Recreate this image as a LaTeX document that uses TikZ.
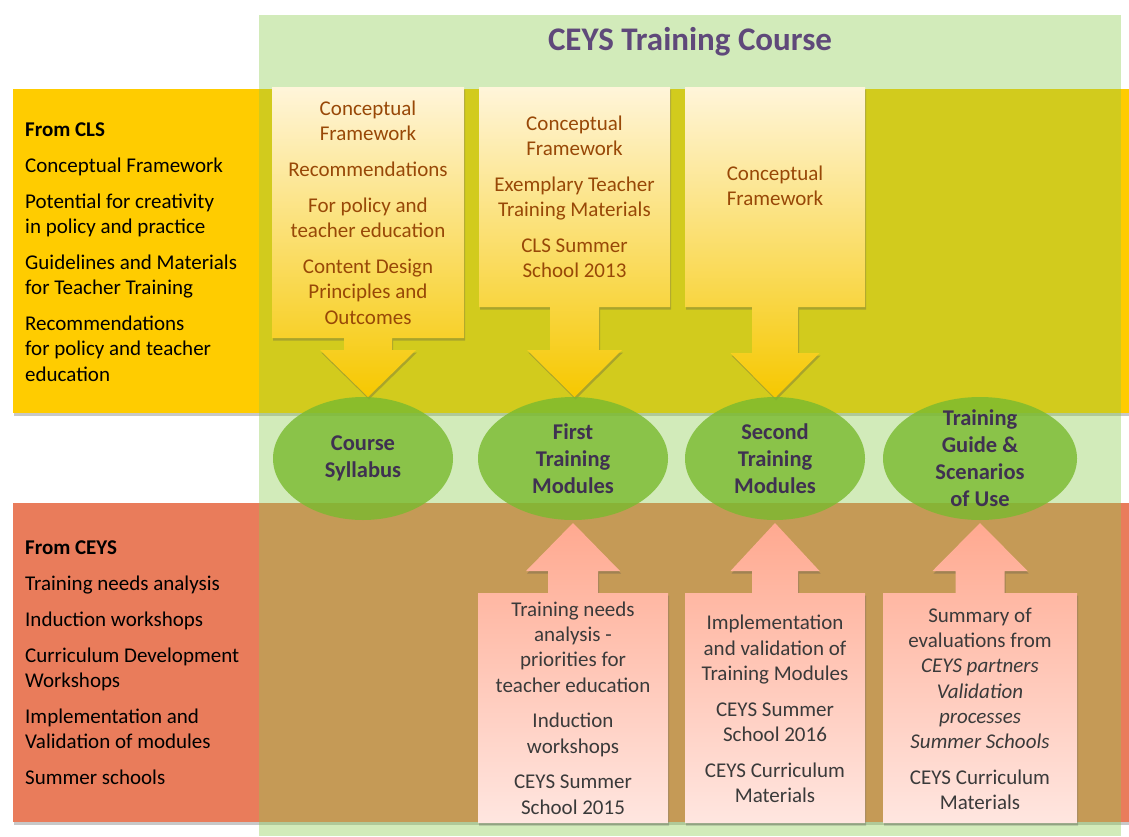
\documentclass[tikz,border=0pt]{standalone}
\usepackage{fontspec}
\setmainfont{Carlito}
\usetikzlibrary{shapes.geometric,shadows}
\definecolor{bandyellow}{HTML}{FFCC00}
\definecolor{bandred}{HTML}{E97C5B}
\definecolor{greenov}{RGB}{140,203,78}
\definecolor{ellgreen}{RGB}{122,186,47}
\definecolor{titlepurple}{HTML}{5F497A}
\definecolor{ellpurple}{HTML}{3F3151}
\definecolor{browntext}{HTML}{984807}
\definecolor{graytext}{HTML}{3A3A3A}
\definecolor{ytop}{HTML}{FFF5DA}
\definecolor{ybot}{HTML}{F6C800}
\definecolor{rtop}{HTML}{FFA990}
\definecolor{rbot}{HTML}{FFE6E0}
\begin{document}
\begin{tikzpicture}[x=1pt,y=-1pt,
  shad/.style={drop shadow={shadow xshift=1pt,shadow yshift=-2.5pt,opacity=0.3,fill=black!70}},
  band/.style={shad},
  downarrow/.style={shad,top color=ytop,bottom color=ybot},
  uparrow/.style={shad,top color=rtop,bottom color=rbot},
  ell/.style={ellipse,fill=ellgreen,fill opacity=0.81,draw=none,inner sep=0pt,minimum width=#1,minimum height=123pt},
  txt/.style={inner sep=0pt,font=\fontsize{21}{25.3}\selectfont},
  lefttxt/.style={txt,align=left,text=black,anchor=west},
  toptxt/.style={txt,align=center,text=browntext},
  bottxt/.style={txt,align=center,text=graytext},
  elltxt/.style={inner sep=0pt,align=center,text=ellpurple,font=\fontsize{22.5}{27}\selectfont\bfseries}
]
\useasboundingbox (0,0) rectangle (1129,836);
\fill[white] (0,0) rectangle (1129,836);

% bands
\fill[band,bandyellow] (13,89) rectangle (1129,413);
\fill[band,bandred] (13,503) rectangle (1129,822);
% green course area (translucent)
\fill[greenov,opacity=0.385] (259,15) rectangle (1121,836);

% title
\node[font=\fontsize{33}{36}\selectfont\bfseries,text=titlepurple,inner sep=0pt] (title) at (690,42) {CEYS Training Course};

% top arrows (from CLS)
\path[downarrow] (272,87) -- (464,87) -- (464,338) -- (392,338) -- (392,350) -- (416,350) -- (368,397) -- (320,350) -- (344,350) -- (344,338) -- (272,338) -- cycle;
\path[downarrow] (479,87) -- (670,87) -- (670,307) -- (599,307) -- (599,350) -- (622,350) -- (574.5,397) -- (527,350) -- (550,350) -- (550,307) -- (479,307) -- cycle;
\path[downarrow] (685,87) -- (865,87) -- (865,307) -- (798,307) -- (798,353) -- (819.5,353) -- (775,398) -- (730.5,353) -- (752,353) -- (752,307) -- (685,307) -- cycle;

% bottom arrows (from CEYS)
\path[uparrow] (478,823) -- (668,823) -- (668,593) -- (598,593) -- (598,571) -- (620,571) -- (573,523) -- (526,571) -- (548,571) -- (548,593) -- (478,593) -- cycle;
\path[uparrow] (685,823) -- (865,823) -- (865,593) -- (798,593) -- (798,571) -- (819.5,571) -- (775,523) -- (730.5,571) -- (752,571) -- (752,593) -- (685,593) -- cycle;
\path[uparrow] (883,823) -- (1077,823) -- (1077,593) -- (1004.5,593) -- (1004.5,571) -- (1027.5,571) -- (980,523) -- (932.5,571) -- (955.5,571) -- (955.5,593) -- (883,593) -- cycle;

% ellipses
\node[ell=180pt] (e1) at (363,458.5) {};
\node[ell=190pt] (e2) at (573,458.5) {};
\node[ell=180pt] (e3) at (775,458.5) {};
\node[ell=194pt] (e4) at (980,458.5) {};
\node[elltxt] (t1) at (e1.center) {Course\\Syllabus};
\node[elltxt] (t2) at (e2.center) {First\\Training\\Modules};
\node[elltxt] (t3) at (e3.center) {Second\\Training\\Modules};
\node[elltxt] (t4) at (e4.center) {Training\\Guide \&\\Scenarios\\of Use};

% left texts
\node[lefttxt] (cls) at (25,252) {\textbf{From CLS}\\[11pt]
Conceptual Framework\\[10.5pt]
Potential for creativity\\in policy and practice\\[10.5pt]
Guidelines and Materials\\for Teacher Training\\[10.5pt]
Recommendations\\for policy and teacher\\education};
\node[lefttxt] (ceys) at (25,662.5) {\textbf{From CEYS}\\[11pt]
Training needs analysis\\[10.5pt]
Induction workshops\\[10.5pt]
Curriculum Development\\Workshops\\[10.5pt]
Implementation and\\Validation of modules\\[10.5pt]
Summer schools};

% top box texts
\node[toptxt] (b1) at (368,212.5) {Conceptual\\Framework\\[10.5pt]
Recommendations\\[10.5pt]
For policy and\\teacher education\\[10.5pt]
Content Design\\Principles and\\Outcomes};
\node[toptxt] (b2) at (574.5,197) {Conceptual\\Framework\\[10.5pt]
Exemplary Teacher\\Training Materials\\[10.5pt]
CLS Summer\\School 2013};
\node[toptxt] (b3) at (775,185.5) {Conceptual\\Framework};

% bottom box texts
\node[bottxt] (c1) at (573,708) {Training needs\\analysis -\\priorities for\\teacher education\\[10.5pt]
Induction\\workshops\\[10.5pt]
CEYS Summer\\School 2015};
\node[bottxt] (c2) at (775,709) {Implementation\\and validation of\\Training Modules\\[10.5pt]
CEYS Summer\\School 2016\\[10.5pt]
CEYS Curriculum\\Materials};
\node[bottxt] (c3) at (980,709) {Summary of\\evaluations from\\\textit{CEYS partners}\\\textit{Validation}\\\textit{processes}\\\textit{Summer Schools}\\[10.5pt]
CEYS Curriculum\\Materials};
\end{tikzpicture}
\end{document}
